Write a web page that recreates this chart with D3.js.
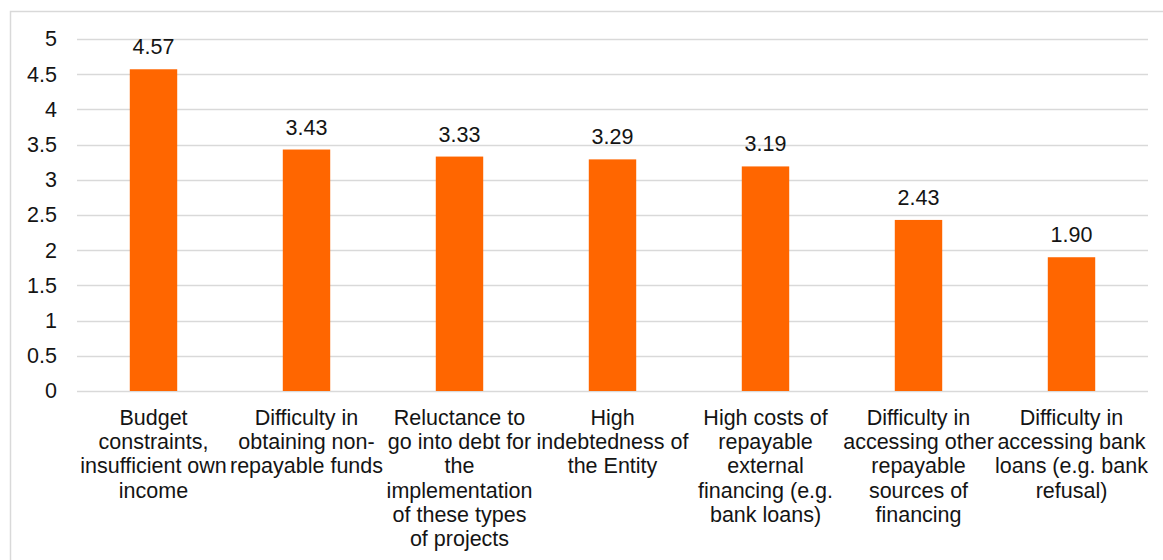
<!DOCTYPE html>
<html>
<head>
<meta charset="utf-8">
<script src="https://cdn.jsdelivr.net/npm/d3@7"></script>
<style>
  html, body { margin: 0; padding: 0; background: #fff; }
  svg { display: block; font-family: "Liberation Sans", Arial, sans-serif; }
</style>
</head>
<body>
<svg id="chart" width="1163" height="560"></svg>
<script>
// Category labels, pre-broken into lines as they are set under each bar
const categories = [
  ["Budget", "constraints,", "insufficient own", "income"],
  ["Difficulty in", "obtaining non-", "repayable funds"],
  ["Reluctance to", "go into debt for", "the", "implementation", "of these types", "of projects"],
  ["High", "indebtedness of", "the Entity"],
  ["High costs of", "repayable", "external", "financing (e.g.", "bank loans)"],
  ["Difficulty in", "accessing other", "repayable", "sources of", "financing"],
  ["Difficulty in", "accessing bank", "loans (e.g. bank", "refusal)"]
];
const values = [4.57, 3.43, 3.33, 3.29, 3.19, 2.43, 1.90];
const yTicks = [0, 0.5, 1, 1.5, 2, 2.5, 3, 3.5, 4, 4.5, 5];

const svg = d3.select("#chart");
const textColor = "#141414";
const fontSize = 21.5;

// outer frame (open on the right and bottom edges of the page)
svg.append("rect")
  .attr("x", 10.5).attr("y", 11.5)
  .attr("width", 1200).attr("height", 600)
  .attr("fill", "none").attr("stroke", "#d9d9d9").attr("stroke-width", 1.5);

const plot = { left: 77, right: 1148, top: 39, bottom: 391 };

const x = d3.scaleBand()
  .domain(d3.range(categories.length))
  .range([plot.left, plot.right])
  .paddingInner(0.69)
  .paddingOuter(0.345);

const y = d3.scaleLinear().domain([0, 5]).range([plot.bottom, plot.top]);

// horizontal gridlines
svg.append("g")
  .selectAll("line")
  .data(yTicks)
  .join("line")
  .attr("x1", plot.left).attr("x2", plot.right)
  .attr("y1", d => Math.round(y(d)) + 0.5).attr("y2", d => Math.round(y(d)) + 0.5)
  .attr("stroke", "#d9d9d9").attr("stroke-width", 1.5);

// y axis labels
const yAxis = d3.axisLeft(y)
  .tickValues(yTicks)
  .tickFormat(d => String(d))
  .tickSize(0)
  .tickPadding(20);
const yg = svg.append("g").attr("transform", `translate(${plot.left},0)`).call(yAxis);
yg.select(".domain").remove();
yg.selectAll("text")
  .attr("font-size", fontSize)
  .attr("font-family", "Liberation Sans, Arial, sans-serif")
  .attr("fill", textColor);

// bars
svg.append("g")
  .selectAll("rect")
  .data(values)
  .join("rect")
  .attr("x", (d, i) => x(i))
  .attr("width", x.bandwidth())
  .attr("y", d => y(d))
  .attr("height", d => y(0) - y(d))
  .attr("fill", "#ff6600");

// value labels
svg.append("g")
  .selectAll("text")
  .data(values)
  .join("text")
  .attr("x", (d, i) => x(i) + x.bandwidth() / 2)
  .attr("y", d => y(d) - 15)
  .attr("text-anchor", "middle")
  .attr("font-size", fontSize)
  .attr("fill", textColor)
  .text(d => d.toFixed(2));

// category labels
const cat = svg.append("g")
  .selectAll("text")
  .data(categories)
  .join("text")
  .attr("text-anchor", "middle")
  .attr("font-size", fontSize)
  .attr("fill", textColor)
  .attr("transform", (d, i) => `translate(${x(i) + x.bandwidth() / 2},${plot.bottom + 34})`);
cat.selectAll("tspan")
  .data(d => d)
  .join("tspan")
  .attr("x", 0)
  .attr("y", (d, i) => i * 24.2)
  .text(d => d);
</script>
</body>
</html>
